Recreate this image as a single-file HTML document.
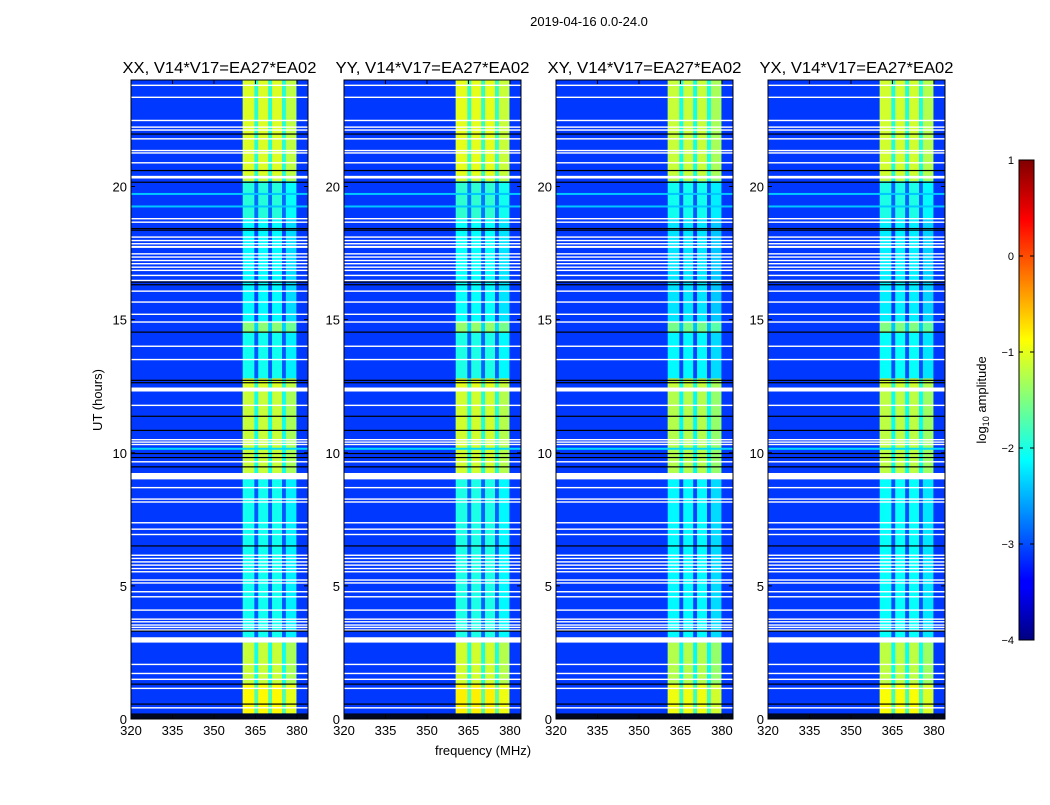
<!DOCTYPE html>
<html><head><meta charset="utf-8"><style>
body{margin:0;background:#fff;}
svg text{font-family:"Liberation Sans",sans-serif;fill:#000;}
</style></head><body>
<svg id="fig" width="1050" height="800" xmlns="http://www.w3.org/2000/svg">
<defs>
<linearGradient id="jetg" x1="0" y1="1" x2="0" y2="0">
<stop offset="0" stop-color="#000080"/><stop offset="0.11" stop-color="#0000ff"/><stop offset="0.125" stop-color="#0000ff"/>
<stop offset="0.375" stop-color="#00ffff"/><stop offset="0.625" stop-color="#ffff00"/><stop offset="0.875" stop-color="#ff0000"/><stop offset="1" stop-color="#800000"/>
</linearGradient>
</defs>
<text x="589" y="26" font-size="13" text-anchor="middle">2019-04-16 0.0-24.0</text>
<g id="panels"></g>
<text transform="translate(102,400) rotate(-90)" font-size="13" text-anchor="middle">UT (hours)</text>
<text x="483" y="755" font-size="13" text-anchor="middle">frequency (MHz)</text>
<g id="cbar"></g>
<text transform="translate(986,400) rotate(-90)" font-size="13" text-anchor="middle">log<tspan font-size="9" dy="3">10</tspan><tspan dy="-3"> amplitude</tspan></text>
</svg>
<script>
// ---- data ----
const panelTitles = ["XX, V14*V17=EA27*EA02","YY, V14*V17=EA27*EA02","XY, V14*V17=EA27*EA02","YX, V14*V17=EA27*EA02"];
const panelOffset = [0, 0.05, -0.1, -0.05];
const bgLevel = -3.1;
const segStart = [0.21, 1.3, 3.07, 9.24, 12.45, 12.8, 14.5, 14.9, 18.8, 20.2, 20.4];
const segEnd   = [1.3, 2.87, 9.0, 12.3, 12.8, 14.5, 14.9, 18.8, 20.2, 20.4, 24.0];
const segLevel = [-0.85, -1.15, -2.05, -1.15, -1.05, -2.05, -1.45, -2.15, -1.95, -1.15, -1.05];
const bandColStart = [360.4, 366.0, 371.0, 376.0];
const bandColEnd   = [364.6, 369.6, 374.6, 379.8];
const lineHours = [19.72, 19.25, 10.15];
const lineLevel = [-2.4, -2.4, -2.3];
const whiteHours = [23.8,23.35,22.48,22.23,22.12,21.79,21.35,21.26,20.89,18.79,18.66,18.1,17.97,17.85,17.72,17.47,17.35,17.22,17.1,16.97,16.85,16.66,16.47,16.07,15.66,15.2,14.91,14.0,13.5,11.78,10.49,10.4,10.31,9.66,8.69,8.26,8.15,7.37,7.13,6.93,6.15,6.03,5.9,5.78,5.65,5.53,5.22,5.11,4.78,4.59,4.09,3.75,3.65,3.53,3.44,3.34,2.05,1.71,1.49,1.15,0.42];
const whiteBlockStart = [20.3, 12.3, 9.0, 2.87, 17.72];
const whiteBlockEnd   = [20.4, 12.45, 9.24, 3.07, 17.77];
const blackHours = [21.97,20.6,20.16,18.42,18.36,16.41,16.31,14.53,12.72,12.63,11.37,10.84,9.97,9.82,9.47,6.5,3.3,1.31,0.56];
const blackBlockStart = [0.0];
const blackBlockEnd = [0.21];
const xTicks = [320,335,350,365,380];
const yTicks = [0,5,10,15,20];
const cbTicks = [1,0,-1,-2,-3,-4];

// ---- geometry ----
const panelX = [131,344,556,768], PW = 177, PT = 80, PB = 719;
const fMin = 320, fMax = 384, tMin = 0, tMax = 24;
const NS = "http://www.w3.org/2000/svg";
function xs(f,p){return panelX[p] + (f-fMin)/(fMax-fMin)*PW;}
function ys(t){return PB - (t-tMin)/(tMax-tMin)*(PB-PT);}
function jet(v){
  let x = (v+4)/5; x=Math.max(0,Math.min(1,x));
  const c=t=>Math.max(0,Math.min(1,1.5-Math.abs(4*x-t)));
  return `rgb(${Math.round(c(3)*255)},${Math.round(c(2)*255)},${Math.round(c(1)*255)})`;
}
function mk(tag,attrs,parent){const e=document.createElementNS(NS,tag);for(const k in attrs)e.setAttribute(k,attrs[k]);parent.appendChild(e);return e;}
const root = document.getElementById('panels');
for(let p=0;p<4;p++){
  const g = mk('g',{},root);
  
  
  const bg = mk('rect',{x:xs(fMin,p),y:PT,width:PW,height:PB-PT,fill:jet(bgLevel)},g);
  
  
  for(let i=0;i<segStart.length;i++){
    const lv = segLevel[i]+panelOffset[p];
    const y0=ys(segEnd[i]), y1=ys(segStart[i]);
    const gap = mk('rect',{x:xs(bandColStart[0],p),y:y0,width:xs(bandColEnd[3],p)-xs(bandColStart[0],p),height:y1-y0,fill:jet(lv-0.9)},g);
    
    
    for(let c=0;c<bandColStart.length;c++){
      const r = mk('rect',{x:xs(bandColStart[c],p),y:y0,width:xs(bandColEnd[c],p)-xs(bandColStart[c],p),height:y1-y0,fill:jet(lv-(c==3?0.15:0))},g);
      
      
    }
  }
  for(let i=0;i<lineHours.length;i++){
    const r = mk('rect',{x:panelX[p],y:ys(lineHours[i])-1,width:PW,height:2,fill:jet(lineLevel[i])},g);
    
    
  }
  for(const h of whiteHours){
    const r = mk('rect',{x:panelX[p],y:ys(h)-0.7,width:PW,height:1.4,fill:'#fff'},g);
    
    
  }
  for(let i=0;i<whiteBlockStart.length;i++){
    const r = mk('rect',{x:panelX[p],y:ys(whiteBlockEnd[i]),width:PW,height:ys(whiteBlockStart[i])-ys(whiteBlockEnd[i]),fill:'#fff'},g);
    
    
  }
  for(const h of blackHours){
    const r = mk('rect',{x:panelX[p],y:ys(h)-0.6,width:PW,height:1.2,fill:'#000'},g);
    
    
  }
  for(let i=0;i<blackBlockStart.length;i++){
    const r = mk('rect',{x:panelX[p],y:ys(blackBlockEnd[i]),width:PW,height:ys(blackBlockStart[i])-ys(blackBlockEnd[i]),fill:'#000820'},g);
    
    
  }
  const fr = mk('rect',{x:panelX[p],y:PT,width:PW,height:PB-PT,fill:'none',stroke:'#000','stroke-width':1},g);
  
  
  const t = mk('text',{x:panelX[p]+PW/2,y:73,'font-size':16,'text-anchor':'middle',textLength:194,lengthAdjust:'spacingAndGlyphs'},g);
  t.textContent = panelTitles[p];
  
  
  for(const f of xTicks){
    const x=xs(f,p);
    mk('line',{x1:x,x2:x,y1:PB,y2:PB-4,stroke:'#000'},g);
    mk('line',{x1:x,x2:x,y1:PT,y2:PT+4,stroke:'#000'},g);
    const l = mk('text',{x:x,y:PB+16,'font-size':13,'text-anchor':'middle'},g);
    l.textContent=f;
    
    
  }
  for(const h of yTicks){
    const y=ys(h);
    mk('line',{x1:panelX[p],x2:panelX[p]+4,y1:y,y2:y,stroke:'#000'},g);
    mk('line',{x1:panelX[p]+PW,x2:panelX[p]+PW-4,y1:y,y2:y,stroke:'#000'},g);
    const l = mk('text',{x:panelX[p]-4,y:y+5,'font-size':13,'text-anchor':'end'},g);
    l.textContent=h;
    
    
  }
}
// colorbar
const cb = document.getElementById('cbar');
const CX=1019, CW=15, CT=160, CB=640;
function cy(v){return CB-(v+4)/5*(CB-CT);}
const cr = mk('rect',{x:CX,y:CT,width:CW,height:CB-CT,fill:'url(#jetg)',stroke:'#000','stroke-width':1},cb);


for(const v of cbTicks){
  const y=cy(v);
  mk('line',{x1:CX,x2:CX+4,y1:y,y2:y,stroke:'#000'},cb);
  mk('line',{x1:CX+CW,x2:CX+CW-4,y1:y,y2:y,stroke:'#000'},cb);
  const l = mk('text',{x:CX-5,y:y+4,'font-size':11,'text-anchor':'end'},cb);
  l.textContent = v<0 ? '\u2212'+(-v) : v;
  
  
}
</script>
</body></html>
